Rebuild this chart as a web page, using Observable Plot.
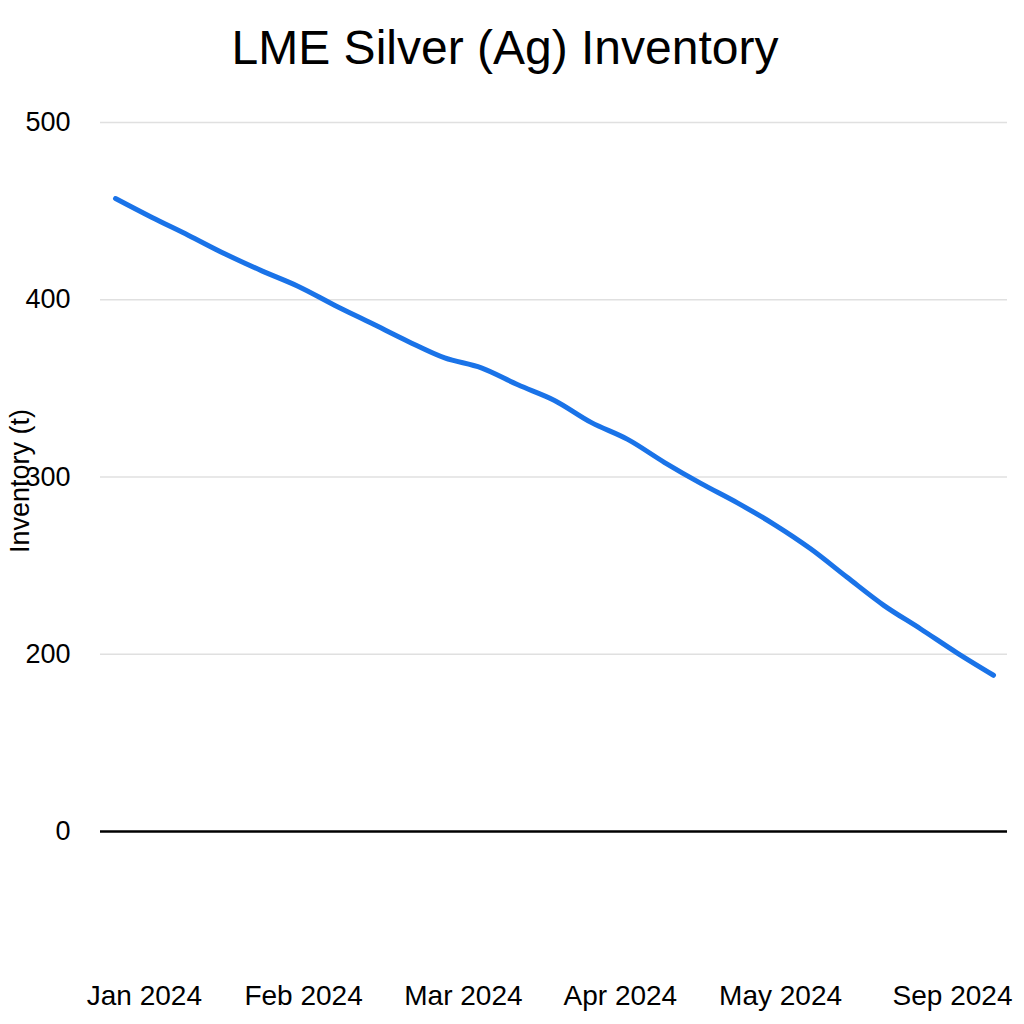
<!DOCTYPE html>
<html>
<head>
<meta charset="utf-8">
<script src="https://cdn.jsdelivr.net/npm/d3@7"></script>
<script src="https://cdn.jsdelivr.net/npm/@observablehq/plot@0.6"></script>
<style>
  html, body { margin: 0; padding: 0; background: #fff; }
  #title { font-family: 'Liberation Sans', Arial, sans-serif; font-size: 48px; height: 100px; line-height: 96px; text-align: center; padding-right: 14px; color: #000; }
</style>
</head>
<body>
<div id="title">LME Silver (Ag) Inventory</div>
<div id="chart"></div>
<script>
const weeks = [0,1,2,3,4,5,6,7,8,9,10,11,12,13,14,15,16,17,18,19,20,21,22,23,24];
const inventory = [457.1, 446.4, 436.3, 425.8, 416.3, 407.5, 396.8, 386.7, 376.5, 367.2, 361.6, 352.0, 343.2, 330.8, 321.2, 308.3, 296.4, 285.4, 273.3, 259.5, 243.4, 227.6, 214.4, 200.8, 176.3];
const yTicks = [0, 200, 300, 400, 500];
const gridValues = [200, 300, 400, 500];
const xTicks = [0.79, 5.14, 9.51, 13.8, 18.18, 22.88];
const xTickLabels = ["Jan 2024", "Feb 2024", "Mar 2024", "Apr 2024", "May 2024", "Sep 2024"];

const data = weeks.map((w, i) => ({week: w, inventory: inventory[i]}));

// broken (piecewise) axis: the 0–200 segment is drawn at half scale
const piecewise = v => (v < 200 ? 100 + v / 2 : v);
const unpiecewise = t => (t < 200 ? (t - 100) * 2 : t);

const chart = Plot.plot({
  width: 1024,
  height: 924,
  marginLeft: 100,
  marginRight: 17,
  marginTop: 22,
  marginBottom: 193,
  style: {fontFamily: "'Liberation Sans', Arial, sans-serif", color: "#000", background: "white"},
  x: {domain: [0, 24], insetLeft: 15, insetRight: 14},
  y: {transform: piecewise, domain: [100, 500]},
  marks: [
    Plot.ruleY(gridValues, {stroke: "#e0e0e0", strokeWidth: 1.5}),
    Plot.ruleY([0], {stroke: "#000", strokeWidth: 2.5}),
    Plot.line(data, {x: "week", y: "inventory", stroke: "#1a73e8", strokeWidth: 5, curve: "catmull-rom", strokeLinecap: "round", strokeLinejoin: "round"}),
    Plot.axisY({ticks: yTicks.map(piecewise), tickSize: 0, tickPadding: 30, fontSize: 27, label: null, tickFormat: t => String(unpiecewise(t))}),
    Plot.axisX({ticks: xTicks, tickSize: 0, tickPadding: 154, fontSize: 28, label: null, tickFormat: d => xTickLabels[xTicks.indexOf(d)]}),
    Plot.text(["Inventory (t)"], {frameAnchor: "left", textAnchor: "middle", rotate: -90, dx: -80, dy: 4, fontSize: 27, fill: "#000"})
  ]
});
document.getElementById("chart").appendChild(chart);
</script>
</body>
</html>
